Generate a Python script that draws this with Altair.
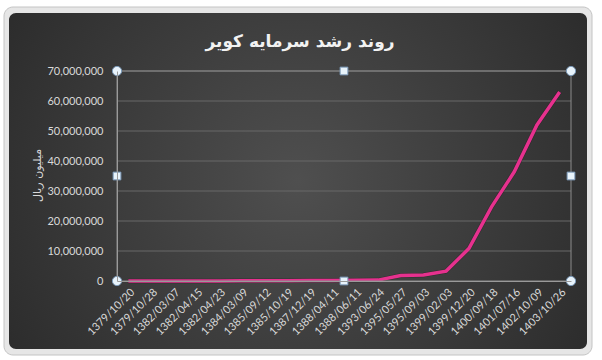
import altair as alt
import pandas as pd

# ---------------- data ----------------
dates = ["1379/10/20", "1379/10/28", "1382/03/07", "1382/04/15", "1382/04/23",
         "1384/03/09", "1385/09/12", "1385/10/19", "1387/12/19", "1388/04/11",
         "1388/06/11", "1393/06/24", "1395/05/27", "1395/09/03", "1399/02/03",
         "1399/12/20", "1400/09/18", "1401/07/16", "1402/10/09", "1403/10/26"]
capital = [5000, 10000, 20000, 30000, 40000,
           60000, 80000, 100000, 150000, 200000,
           250000, 300000, 1800000, 2000000, 3300000,
           10800000, 24700000, 36400000, 52000000, 63000000]
y_ticks = [0, 10000000, 20000000, 30000000, 40000000, 50000000, 60000000, 70000000]
title_text = "روند رشد سرمایه کویر"
y_title = "میلیون ریال"
handle_x = [0, 0.5, 1, 0, 1, 0, 0.5, 1]
handle_y = [1, 1, 1, 0.5, 0.5, 0, 0, 0]
handle_shape = ["circle", "square", "circle", "square", "square", "circle", "square", "circle"]

# ---------------- layout ----------------
W, H = 454, 210
PL, PT, PR, PB = 117, 71, 31, 79
LBL = "#d9d9d9"
NUMFONT = "Lato"

df = pd.DataFrame({"date": dates, "capital": capital})
grid_df = pd.DataFrame({"v": y_ticks[1:]})
hdf = pd.DataFrame({"hx": handle_x, "hy": handle_y, "shape": handle_shape})
border_df = pd.DataFrame({"x0": [0], "x1": [1], "y0": [0], "y1": [1]})
one = pd.DataFrame({"t": [title_text]})

frame = alt.Chart(one).mark_rect(fill="#e6e6e6", stroke="#c4c4c4", strokeWidth=1, cornerRadius=9).encode(
    x=alt.value(4 - PL), x2=alt.value(592 - PL), y=alt.value(7 - PT), y2=alt.value(355 - PT))

grad = {
    "gradient": "radial",
    "x1": 0.5, "y1": 0.5, "r1": 0,
    "x2": 0.5, "y2": 0.5, "r2": 0.75,
    "stops": [
        {"offset": 0, "color": "#4f4f4f"},
        {"offset": 1, "color": "#222222"},
    ],
}
bg = alt.Chart(one).mark_rect(color=grad, cornerRadius=7).encode(
    x=alt.value(9 - PL), x2=alt.value(587 - PL), y=alt.value(13 - PT), y2=alt.value(349 - PT))

yscale = alt.Scale(domain=[0, 70000000], nice=False)
xscale = alt.Scale(type="point", padding=0.5)

y_axis = alt.Axis(values=y_ticks, format=",.0f", ticks=False, grid=False,
                  domain=True, domainColor="#9a9a9a", labelPadding=14,
                  labelColor=LBL, labelFont=NUMFONT, labelFontSize=11, zindex=1,
                  title=y_title, titleX=-80, titleY=104, titleAngle=270,
                  titleAlign="center", titleBaseline="middle",
                  titleColor=LBL, titleFont="DejaVu Sans", titleFontSize=11,
                  titleFontWeight="normal")

grid = alt.Chart(grid_df).mark_rule(color="#686868", strokeWidth=1).encode(
    y=alt.Y("v:Q", scale=yscale, axis=y_axis, title=y_title))

shadow = alt.Chart(df).mark_line(color="#1a1a1a", strokeWidth=4.5, opacity=0.45).encode(
    x=alt.X("date:N", sort=None, scale=xscale),
    y=alt.Y("capital:Q", scale=yscale, axis=y_axis, title=y_title),
)

line = alt.Chart(df).mark_line(color="#E6318E", strokeWidth=3.5).encode(
    x=alt.X("date:N", sort=None, scale=xscale,
            axis=alt.Axis(title=None, labelAngle=-45, labelAlign="right", labelBaseline="top",
                          labelPadding=5, ticks=False, domain=True, domainColor="#9a9a9a",
                          labelColor=LBL, labelFont=NUMFONT, labelFontSize=11, zindex=1,
                          labelOverlap=False, grid=False)),
    y=alt.Y("capital:Q", scale=yscale, axis=y_axis, title=y_title),
)

main = alt.layer(grid, shadow, line)

hx_scale = alt.Scale(domain=[0, 1], nice=False, zero=False)
hy_scale = alt.Scale(domain=[0, 1], nice=False, zero=False)

border = alt.Chart(border_df).mark_rect(filled=False, stroke="#8c8c8c", strokeWidth=1).encode(
    x=alt.X("x0:Q", scale=hx_scale, axis=None), x2="x1:Q",
    y=alt.Y("y0:Q", scale=hy_scale, axis=None), y2="y1:Q")

handles = alt.Chart(hdf).mark_point(filled=True, fill="#e8f3fb", stroke="#7d9cbc",
                                    strokeWidth=1, opacity=1).encode(
    x=alt.X("hx:Q", scale=hx_scale, axis=None),
    y=alt.Y("hy:Q", scale=hy_scale, axis=None),
    shape=alt.Shape("shape:N", scale=alt.Scale(domain=["circle", "square"], range=["circle", "square"]), legend=None),
    size=alt.Size("shape:N", scale=alt.Scale(domain=["circle", "square"], range=[85, 60]), legend=None),
)

decor = alt.layer(border, handles)

title = alt.Chart(one).mark_text(font="DejaVu Sans", fontSize=17, fontWeight="bold",
                                 color="#f2f2f2", align="center", baseline="middle").encode(
    text="t:N", x=alt.value(300 - PL), y=alt.value(42 - PT))

chart = alt.layer(frame, bg, main, decor, title).resolve_scale(
    x="independent", y="independent", shape="independent", size="independent"
).properties(
    width=W, height=H,
    autosize=alt.AutoSizeParams(type="none"),
    padding={"left": PL, "top": PT, "right": PR, "bottom": PB},
).configure(background="#ffffff").configure_view(strokeWidth=0)

chart.save("out.html", embed_options={"renderer": "svg", "actions": False})
